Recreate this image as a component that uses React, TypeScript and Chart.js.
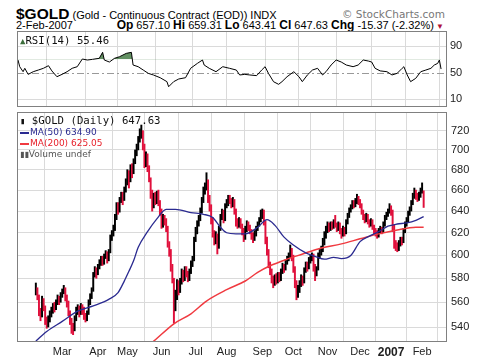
import React, { useEffect, useRef } from "react";
import { Chart, registerables } from "chart.js";
Chart.register(...registerables);

// ---- axes / labels ----
const monthTickIdx = [17, 40, 59, 81, 103, 123, 146, 166, 188, 209, 229, 249];
const monthLabels = ["Mar", "Apr", "May", "Jun", "Jul", "Aug", "Sep", "Oct", "Nov", "Dec", "2007", "Feb"];
const priceTicks = [540, 560, 580, 600, 620, 640, 660, 680, 700, 720];
const rsiTicks = [10, 30, 50, 70, 90];

// ---- daily bars (trading day index 0 = 3-Feb-2006 ... 250 = 2-Feb-2007) ----
const closes = [
  571, 565, 552, 548, 562, 556, 545, 541, 546, 550,
  553, 557, 555, 560, 563, 561, 566, 569, 571, 564,
  560, 552, 545, 540, 538, 547, 553, 556, 551, 557,
  554, 549, 547, 551, 560, 565, 570, 583, 587, 584,
  590, 593, 597, 594, 599, 601, 596, 603, 616, 619,
  624, 634, 645, 641, 650, 655, 652, 660, 668, 676,
  670, 682, 678, 688, 697, 702, 711, 718, 722, 704,
  688, 694, 682, 671, 658, 645, 654, 650, 656, 648,
  640, 628, 634, 631, 625, 610, 603, 590, 580, 558,
  566, 576, 570, 578, 585, 580, 588, 584, 580, 586,
  593, 596, 614, 622, 628, 633, 640, 650, 660, 664,
  672, 652, 644, 632, 620, 614, 618, 608, 624, 635,
  639, 632, 645, 648, 652, 650, 646, 650, 640, 630,
  628, 632, 627, 622, 616, 624, 628, 625, 622, 618,
  615, 620, 624, 628, 632, 636, 639, 630, 614, 603,
  592, 586, 580, 576, 581, 578, 583, 580, 586, 590,
  588, 594, 597, 600, 604, 598, 588, 576, 566, 571,
  575, 580, 577, 587, 592, 589, 596, 598, 600, 590,
  584, 588, 600, 603, 605, 612, 618, 622, 627, 624,
  628, 626, 630, 627, 624, 628, 622, 618, 624, 620,
  630, 636, 641, 644, 648, 646, 650, 652, 649, 646,
  640, 635, 632, 636, 630, 628, 631, 626, 622, 620,
  618, 622, 624, 621, 628, 634, 637, 640, 643, 640,
  625, 610, 608, 606, 611, 614, 612, 622, 628, 632,
  638, 642, 648, 655, 658, 654, 652, 656, 660, 663,
  647.63,
];
const highs = [
  576, 572, 566, 555, 565, 563, 557, 548, 549, 553,
  556, 559, 560, 562, 566, 565, 568, 571, 574, 572,
  566, 561, 553, 547, 543, 549, 556, 558, 557, 559,
  558, 556, 551, 553, 562, 567, 572, 585, 590, 589,
  592, 596, 599, 599, 601, 604, 603, 605, 618, 622,
  627, 637, 648, 648, 653, 658, 658, 663, 671, 680,
  679, 685, 686, 691, 700, 706, 714, 722, 726, 720,
  706, 698, 696, 684, 672, 660, 657, 658, 659, 660,
  650, 642, 637, 636, 633, 626, 612, 605, 592, 580,
  570, 579, 578, 580, 588, 587, 590, 590, 586, 588,
  595, 599, 616, 625, 631, 636, 643, 653, 663, 667,
  677, 670, 655, 646, 634, 622, 621, 619, 626, 637,
  642, 641, 647, 651, 655, 655, 652, 653, 651, 642,
  633, 634, 633, 628, 624, 626, 631, 630, 627, 623,
  620, 622, 626, 630, 634, 641, 642, 641, 631, 616,
  605, 594, 588, 582, 583, 584, 585, 585, 588, 593,
  592, 596, 599, 602, 609, 606, 600, 590, 578, 574,
  578, 583, 582, 589, 594, 594, 598, 600, 602, 601,
  592, 590, 602, 605, 608, 615, 621, 626, 630, 629,
  630, 630, 632, 636, 629, 630, 629, 624, 626, 625,
  632, 638, 643, 646, 650, 650, 652, 656, 654, 651,
  647, 641, 637, 638, 637, 632, 633, 632, 627, 624,
  622, 624, 626, 625, 630, 636, 639, 642, 647, 645,
  641, 627, 613, 611, 613, 616, 616, 624, 630, 634,
  640, 644, 650, 657, 662, 660, 657, 658, 662, 667,
  659.31,
];
const lows = [
  566, 562, 549, 545, 548, 553, 542, 539, 540, 544,
  548, 551, 552, 554, 558, 558, 560, 564, 567, 561,
  556, 549, 542, 535, 534, 537, 545, 550, 548, 550,
  550, 546, 544, 545, 550, 558, 563, 569, 581, 580,
  583, 588, 591, 591, 592, 597, 593, 595, 602, 613,
  617, 622, 632, 637, 639, 648, 646, 650, 658, 665,
  662, 668, 672, 676, 686, 694, 700, 708, 712, 700,
  682, 683, 678, 668, 652, 640, 643, 646, 647, 645,
  636, 624, 625, 627, 621, 607, 599, 586, 576, 543,
  553, 562, 566, 568, 575, 577, 578, 581, 577, 578,
  584, 590, 595, 612, 619, 626, 631, 638, 648, 656,
  660, 648, 640, 628, 616, 609, 610, 601, 606, 622,
  632, 629, 631, 643, 645, 647, 643, 644, 637, 626,
  624, 625, 624, 618, 612, 614, 621, 622, 619, 614,
  611, 613, 617, 622, 626, 630, 633, 627, 610, 600,
  589, 583, 576, 572, 574, 575, 576, 577, 578, 584,
  585, 587, 592, 595, 598, 595, 585, 572, 562, 564,
  568, 573, 574, 576, 585, 586, 588, 593, 595, 586,
  578, 582, 587, 597, 600, 603, 609, 615, 620, 621,
  622, 623, 624, 625, 621, 622, 619, 615, 617, 617,
  619, 628, 634, 639, 642, 643, 644, 647, 646, 643,
  637, 632, 629, 630, 628, 625, 626, 623, 619, 617,
  615, 616, 620, 619, 620, 626, 632, 635, 638, 636,
  621, 606, 604, 603, 604, 608, 609, 611, 620, 626,
  630, 636, 640, 646, 652, 651, 649, 650, 653, 657,
  643.41,
];

// ---- moving averages (read at points along the lines) ----
const ma50Idx = [0, 7, 17, 27, 37, 47, 53, 57, 60, 63, 66, 72, 78, 84, 90, 100, 108, 114, 119, 123, 129, 135, 143, 149, 154, 160, 166, 174, 180, 186, 192, 197, 203, 209, 215, 221, 227, 233, 239, 245, 250];
const ma50Val = [529, 536.5, 544.5, 552.7, 557, 562.3, 568, 577.6, 586, 595, 607, 621, 632.7, 641.6, 641.6, 638.6, 637, 634, 625, 620, 619, 619, 625, 632, 627, 616, 609, 602, 599, 596.5, 598, 597, 599.7, 612, 617, 621, 626, 628, 629, 631.4, 634.9];
const ma200Idx = [68, 74, 89, 100, 110, 123, 135, 143, 151, 162, 172, 182, 197, 209, 221, 233, 245, 250];
const ma200Val = [522, 527, 542.6, 550.6, 561, 570.4, 577.7, 585, 590.7, 596.5, 601, 605.5, 610, 614.5, 619, 622.6, 625, 625.05];

// ---- RSI(14) ----
const rsiIdx = [0, 1, 3, 4, 6, 9, 12, 15, 18, 20, 23, 26, 29, 32, 35, 38, 41, 44, 48, 50, 51, 54, 57, 60, 64, 67, 68, 71, 74, 77, 80, 84, 88, 89, 92, 95, 99, 102, 106, 109, 110, 113, 117, 121, 125, 129, 131, 134, 137, 141, 144, 146, 148, 151, 154, 156, 159, 163, 166, 168, 171, 174, 177, 180, 182, 185, 188, 191, 194, 198, 201, 204, 207, 209, 211, 214, 218, 221, 224, 227, 228, 230, 232, 235, 238, 241, 244, 246, 248, 249, 250];
const rsiVal = [69, 59, 51.5, 56.6, 47.5, 51.5, 54, 56.6, 60.5, 52.7, 44, 47.5, 51.5, 56.6, 59, 70.5, 69, 70, 71.5, 80.6, 69, 66, 71.5, 74, 79, 80.5, 61.5, 59, 54, 49, 46.6, 42.5, 36.6, 29, 36.6, 40.6, 42.5, 56.6, 64, 69, 61.5, 56.6, 51.5, 59, 56.6, 54, 46.6, 47.5, 46.6, 45.6, 54, 59, 49, 36.5, 32.6, 36.6, 44, 51.5, 44, 36.6, 46.6, 54, 56.6, 46.6, 51.5, 61.5, 69, 66, 61.5, 59, 61.5, 69, 67.5, 66, 56.6, 52.7, 51.5, 46.6, 49, 56.6, 59, 46.6, 36.6, 41.5, 51.5, 54, 56.6, 61.5, 64, 69, 55.46];

const UP = "#000000";
const DOWN = "#e0103c";
const GRID = "#dadada";
const LABEL_FONT = "Liberation Sans";

const framePlugin = {
  id: "frame",
  afterDraw(chart: any) {
    const { ctx, chartArea: a } = chart;
    ctx.save();
    ctx.strokeStyle = "#808080";
    ctx.lineWidth = 1;
    ctx.strokeRect(Math.round(a.left) + 0.5, Math.round(a.top) + 0.5, Math.round(a.right - a.left) - 1, Math.round(a.bottom - a.top) - 1);
    ctx.restore();
  },
};

const rsiLinesPlugin = {
  id: "rsiLines",
  beforeDatasetsDraw(chart: any) {
    const { ctx, chartArea: a, scales } = chart;
    const y50 = Math.round(scales.y.getPixelForValue(50)) + 0.5;
    ctx.save();
    ctx.strokeStyle = "#999999";
    ctx.lineWidth = 1;
    ctx.setLineDash([7, 3, 2, 3]);
    ctx.beginPath();
    ctx.moveTo(a.left, y50);
    ctx.lineTo(a.right, y50);
    ctx.stroke();
    ctx.restore();
  },
};

function xAxis(showLabels: boolean, h: number) {
  return {
    type: "linear",
    min: -0.6,
    max: 253.5,
    afterBuildTicks: (s: any) => {
      s.ticks = monthTickIdx.map((v) => ({ value: v }));
    },
    afterFit: (s: any) => {
      s.height = h;
      s.paddingLeft = 0;
      s.paddingRight = 0;
    },
    grid: { color: GRID, drawTicks: false, lineWidth: 1 },
    border: { display: false },
    ticks: {
      display: showLabels,
      autoSkip: false,
      maxRotation: 0,
      padding: 3,
      color: "#222",
      font: (c: any) =>
        monthLabels[c.index] === "2007"
          ? { family: LABEL_FONT, size: 12, weight: "bold" }
          : { family: LABEL_FONT, size: 11 },
      callback: (_v: any, i: number) => monthLabels[i],
    },
  };
}

export default function App() {
  const rsiRef = useRef<HTMLCanvasElement>(null);
  const priceRef = useRef<HTMLCanvasElement>(null);

  useEffect(() => {
    const rsiChart = new Chart(rsiRef.current as HTMLCanvasElement, {
      type: "line",
      data: {
        datasets: [
          {
            data: rsiIdx.map((x, i) => ({ x, y: rsiVal[i] })),
            borderColor: "#000",
            borderWidth: 1,
            pointRadius: 0,
            tension: 0,
            fill: { target: { value: 70 }, above: "rgba(70,125,70,0.85)", below: "rgba(0,0,0,0)" },
          } as any,
        ],
      },
      options: {
        responsive: false,
        animation: false,
        events: [],
        layout: { padding: { left: 17, right: 0, top: 0, bottom: 0 } },
        plugins: { legend: { display: false }, tooltip: { enabled: false } },
        scales: {
          x: xAxis(false, 0) as any,
          y: {
            position: "right",
            min: -1.4,
            max: 112.5,
            afterBuildTicks: (s: any) => {
              s.ticks = rsiTicks.map((v) => ({ value: v }));
            },
            afterFit: (s: any) => {
              s.width = 31;
              s.paddingTop = 0;
              s.paddingBottom = 0;
            },
            grid: {
              drawTicks: false,
              color: (c: any) => {
                const v = c.tick && c.tick.value;
                if (v === 70 || v === 30) return "#8a8a8a";
                if (v === 50) return "rgba(0,0,0,0)";
                return GRID;
              },
            },
            border: { display: false },
            ticks: { padding: 3, color: "#222", font: { family: LABEL_FONT, size: 11 }, callback: (v: any) => String(v) },
          },
        },
      },
      plugins: [framePlugin, rsiLinesPlugin],
    });

    const priceChart = new Chart(priceRef.current as HTMLCanvasElement, {
      type: "bar",
      data: {
        datasets: [
          {
            type: "line",
            data: ma50Idx.map((x, i) => ({ x, y: ma50Val[i] })),
            borderColor: "#2a2a90",
            borderWidth: 1.3,
            pointRadius: 0,
            cubicInterpolationMode: "monotone",
            order: 1,
          } as any,
          {
            type: "line",
            data: ma200Idx.map((x, i) => ({ x, y: ma200Val[i] })),
            borderColor: "#f03a40",
            borderWidth: 1.5,
            pointRadius: 0,
            cubicInterpolationMode: "monotone",
            order: 2,
          } as any,
          {
            type: "bar",
            data: closes.map((c, i) => ({ x: i, y: [lows[i], highs[i]] })),
            backgroundColor: closes.map((c, i) => (i > 0 && c < closes[i - 1] ? DOWN : UP)),
            barThickness: 1.3,
            borderWidth: 0,
            order: 3,
          } as any,
        ],
      },
      options: {
        responsive: false,
        animation: false,
        events: [],
        layout: { padding: { left: 17, right: 0, top: 0, bottom: 0 } },
        plugins: { legend: { display: false }, tooltip: { enabled: false } },
        scales: {
          x: xAxis(true, 15) as any,
          y: {
            type: "logarithmic",
            position: "right",
            min: 528.3,
            max: 740,
            afterBuildTicks: (s: any) => {
              s.ticks = priceTicks.map((v) => ({ value: v }));
            },
            afterFit: (s: any) => {
              s.width = 31;
              s.paddingTop = 0;
              s.paddingBottom = 0;
            },
            grid: { color: GRID, drawTicks: false },
            border: { display: false },
            ticks: { padding: 4, color: "#222", font: { family: LABEL_FONT, size: 11 }, callback: (v: any) => String(v) },
          } as any,
        },
      },
      plugins: [framePlugin],
    });

    return () => {
      rsiChart.destroy();
      priceChart.destroy();
    };
  }, []);

  const legendMono = { fontFamily: "'DejaVu Sans Mono'", fontSize: 10.7, color: "#111" };
  const legendSans = { fontFamily: "'DejaVu Sans'", fontSize: 9 };

  return (
    <div style={{ position: "fixed", left: 0, top: 0, width: 478, height: 357, background: "#fff", overflow: "hidden" }}>
      {/* header */}
      <div style={{ position: "absolute", left: 16, top: 6, whiteSpace: "nowrap", lineHeight: "15px", fontFamily: LABEL_FONT, color: "#000" }}>
        <span style={{ fontWeight: "bold", fontSize: 15.5 }}>$GOLD</span>
        <span style={{ fontSize: 11 }}> (Gold - Continuous Contract (EOD)) INDX</span>
      </div>
      <div style={{ position: "absolute", right: 33, top: 8, whiteSpace: "nowrap", lineHeight: "13px", fontFamily: "'DejaVu Sans'", fontSize: 10.5, color: "#777" }}>
        © StockCharts.com
      </div>
      <div style={{ position: "absolute", left: 16, top: 20, whiteSpace: "nowrap", lineHeight: "11px", fontFamily: LABEL_FONT, fontSize: 11, color: "#000" }}>
        2-Feb-2007
      </div>
      <div style={{ position: "absolute", right: 34, top: 19, whiteSpace: "nowrap", lineHeight: "12px", fontFamily: LABEL_FONT, fontSize: 11, color: "#000" }}>
        <b style={{ fontSize: 12 }}>Op</b> 657.10 <b style={{ fontSize: 12 }}>Hi</b> 659.31 <b style={{ fontSize: 12 }}>Lo</b> 643.41{" "}
        <b style={{ fontSize: 12 }}>Cl</b> 647.63 <b style={{ fontSize: 12 }}>Chg</b> -15.37 (-2.32%)
        <span style={{ color: "#b0103a", fontSize: 8 }}> ▼</span>
      </div>

      {/* RSI panel */}
      <canvas ref={rsiRef} width={478} height={76} style={{ position: "absolute", left: 0, top: 31 }} />
      <div style={{ position: "absolute", left: 20, top: 35, whiteSpace: "nowrap", lineHeight: "11px", ...legendMono }}>
        <span style={{ fontSize: 9, color: "#3c6e3c" }}>▲</span>RSI(14) 55.46
      </div>

      {/* price panel */}
      <canvas ref={priceRef} width={478} height={245} style={{ position: "absolute", left: 0, top: 112 }} />
      <div style={{ position: "absolute", left: 20, top: 115, whiteSpace: "nowrap", lineHeight: "11px" }}>
        <div style={legendMono}>
          <span style={{ fontSize: 9 }}>▮</span> $GOLD (Daily) 647.63
        </div>
        <div style={{ ...legendSans, color: "#2a2a90", lineHeight: "11px" }}>
          <span style={{ display: "inline-block", width: 9, height: 2, background: "#2a2a90", verticalAlign: "middle", marginRight: 1 }} />
          MA(50) 634.90
        </div>
        <div style={{ ...legendSans, color: "#e8202a", lineHeight: "11px" }}>
          <span style={{ display: "inline-block", width: 9, height: 2, background: "#f03a40", verticalAlign: "middle", marginRight: 1 }} />
          MA(200) 625.05
        </div>
        <div style={{ ...legendSans, color: "#555", lineHeight: "11px" }}>
          <span style={{ fontSize: 8 }}>▮▮</span>Volume undef
        </div>
      </div>
    </div>
  );
}
